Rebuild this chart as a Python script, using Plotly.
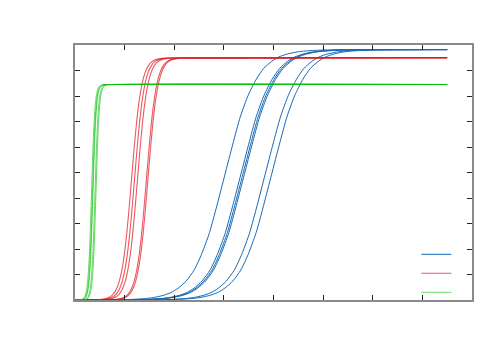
import plotly.graph_objects as go

# ---- shared y-levels for each family (values on the rising curves) ----
blue_levels = [0, 0.009, 0.024, 0.066, 0.108, 0.177, 0.288, 0.465, 0.745, 1.171, 1.791, 2.641, 3.707,
               4.91, 6.113, 7.179, 8.029, 8.649, 9.075, 9.355, 9.532, 9.643, 9.712, 9.754, 9.795, 9.811, 9.82]
red_levels = [0, 0.009, 0.023, 0.064, 0.105, 0.171, 0.278, 0.450, 0.721, 1.132, 1.733, 2.555, 3.586,
              4.75, 5.914, 6.945, 7.767, 8.368, 8.779, 9.050, 9.222, 9.329, 9.396, 9.436, 9.476, 9.491, 9.5]
green_levels = [0, 0.008, 0.021, 0.057, 0.093, 0.152, 0.248, 0.401, 0.641, 1.007, 1.541, 2.272, 3.190,
                4.225, 5.260, 6.178, 6.909, 7.443, 7.809, 8.049, 8.202, 8.298, 8.357, 8.393, 8.429, 8.442, 8.45]

# ---- x positions where each curve reaches those levels ----
blue_x = [
    [0, 0.83, 1.15, 1.46, 1.61, 1.77, 1.93, 2.08, 2.24, 2.40, 2.55, 2.71, 2.86, 3.02, 3.18, 3.33, 3.49, 3.65, 3.80, 3.96, 4.11, 4.27, 4.43, 4.58, 4.90, 5.21, 7.5],
    [0, 1.15, 1.47, 1.78, 1.93, 2.09, 2.25, 2.40, 2.56, 2.72, 2.87, 3.03, 3.18, 3.34, 3.50, 3.65, 3.81, 3.97, 4.12, 4.28, 4.43, 4.59, 4.75, 4.90, 5.22, 5.53, 7.5],
    [0, 1.19, 1.51, 1.82, 1.97, 2.13, 2.29, 2.44, 2.60, 2.76, 2.91, 3.07, 3.22, 3.38, 3.54, 3.69, 3.85, 4.01, 4.16, 4.32, 4.47, 4.63, 4.79, 4.94, 5.26, 5.57, 7.5],
    [0, 1.22, 1.54, 1.85, 2.00, 2.16, 2.32, 2.47, 2.63, 2.79, 2.94, 3.10, 3.25, 3.41, 3.57, 3.72, 3.88, 4.04, 4.19, 4.35, 4.50, 4.66, 4.82, 4.97, 5.29, 5.60, 7.5],
    [0, 1.64, 1.96, 2.27, 2.42, 2.58, 2.74, 2.89, 3.05, 3.21, 3.36, 3.52, 3.67, 3.83, 3.99, 4.14, 4.30, 4.46, 4.61, 4.77, 4.92, 5.08, 5.24, 5.39, 5.71, 6.02, 7.5],
    [0, 1.77, 2.09, 2.40, 2.55, 2.71, 2.87, 3.02, 3.18, 3.34, 3.49, 3.65, 3.80, 3.96, 4.12, 4.27, 4.43, 4.59, 4.74, 4.90, 5.05, 5.21, 5.37, 5.52, 5.84, 6.15, 7.5],
]
red_x = [
    [0, 0.44, 0.54, 0.64, 0.69, 0.74, 0.79, 0.84, 0.89, 0.94, 0.99, 1.04, 1.09, 1.14, 1.19, 1.24, 1.29, 1.34, 1.39, 1.44, 1.49, 1.54, 1.59, 1.64, 1.74, 1.84, 7.5],
    [0, 0.50, 0.60, 0.70, 0.75, 0.80, 0.85, 0.90, 0.95, 1.00, 1.05, 1.10, 1.15, 1.20, 1.25, 1.30, 1.35, 1.40, 1.45, 1.50, 1.55, 1.60, 1.65, 1.70, 1.80, 1.90, 7.5],
    [0, 0.56, 0.66, 0.76, 0.81, 0.86, 0.91, 0.96, 1.01, 1.06, 1.11, 1.16, 1.21, 1.26, 1.31, 1.36, 1.41, 1.46, 1.51, 1.56, 1.61, 1.66, 1.71, 1.76, 1.86, 1.96, 7.5],
    [0, 0.74, 0.84, 0.94, 0.99, 1.04, 1.09, 1.14, 1.19, 1.24, 1.29, 1.34, 1.39, 1.44, 1.49, 1.54, 1.59, 1.64, 1.69, 1.74, 1.79, 1.84, 1.89, 1.94, 2.04, 2.14, 7.5],
    [0, 0.77, 0.87, 0.97, 1.02, 1.07, 1.12, 1.17, 1.22, 1.27, 1.32, 1.37, 1.42, 1.47, 1.52, 1.57, 1.62, 1.67, 1.72, 1.77, 1.82, 1.87, 1.92, 1.97, 2.07, 2.17, 7.5],
]
green_x = [
    [0, 0.100, 0.133, 0.166, 0.183, 0.200, 0.216, 0.233, 0.250, 0.266, 0.283, 0.300, 0.316, 0.333, 0.350, 0.366, 0.383, 0.400, 0.416, 0.433, 0.450, 0.466, 0.483, 0.500, 0.533, 0.566, 7.5],
    [0, 0.120, 0.153, 0.186, 0.203, 0.220, 0.236, 0.253, 0.270, 0.286, 0.303, 0.320, 0.336, 0.353, 0.370, 0.386, 0.403, 0.420, 0.436, 0.453, 0.470, 0.486, 0.503, 0.520, 0.553, 0.586, 7.5],
    [0, 0.130, 0.163, 0.196, 0.213, 0.230, 0.246, 0.263, 0.280, 0.296, 0.313, 0.330, 0.346, 0.363, 0.380, 0.396, 0.413, 0.430, 0.446, 0.463, 0.480, 0.496, 0.513, 0.530, 0.563, 0.596, 7.5],
    [0, 0.170, 0.203, 0.236, 0.253, 0.270, 0.286, 0.303, 0.320, 0.336, 0.353, 0.370, 0.386, 0.403, 0.420, 0.436, 0.453, 0.470, 0.486, 0.503, 0.520, 0.536, 0.553, 0.570, 0.603, 0.636, 7.5],
    [0, 0.190, 0.223, 0.256, 0.273, 0.290, 0.306, 0.323, 0.340, 0.356, 0.373, 0.390, 0.406, 0.423, 0.440, 0.456, 0.473, 0.490, 0.506, 0.523, 0.540, 0.556, 0.573, 0.590, 0.623, 0.656, 7.5],
]

families = [
    ("blue", blue_x, blue_levels, "rgb(22,104,182)", 1.0),
    ("red", red_x, red_levels, "rgba(224,20,28,0.7)", 1.1),
    ("green", green_x, green_levels, "rgba(0,190,0,0.6)", 1.0),
]

fig = go.Figure()
for name, xs_list, levels, color, width in families:
    for i, xs in enumerate(xs_list):
        fig.add_trace(go.Scatter(
            x=xs, y=levels, mode="lines",
            line=dict(color=color, width=width, shape="spline", smoothing=0.6),
            name=" ", legendgroup=name, showlegend=(i == 0),
            hoverinfo="skip",
        ))

axis_common = dict(
    showgrid=False, zeroline=False, showticklabels=False,
    ticks="inside", ticklen=5, tickcolor="#222", tickwidth=1,
    showline=True, linecolor="#8a8a8a", linewidth=1.6, mirror="ticks",
)
fig.update_xaxes(range=[0, 8], dtick=1, tick0=0, **axis_common)
fig.update_yaxes(range=[0, 10], dtick=1, tick0=0, **axis_common)

fig.update_layout(
    width=500, height=350,
    margin=dict(l=67, r=36, t=37, b=58),
    paper_bgcolor="white", plot_bgcolor="white",
    font=dict(family="Liberation Sans", size=10, color="#222"),
    legend=dict(x=0.86, y=0.236, xanchor="left", yanchor="top",
                bgcolor="rgba(0,0,0,0)", borderwidth=0, font=dict(size=9),
                tracegroupgap=0),
    showlegend=True,
)

fig.write_html("out.html")
